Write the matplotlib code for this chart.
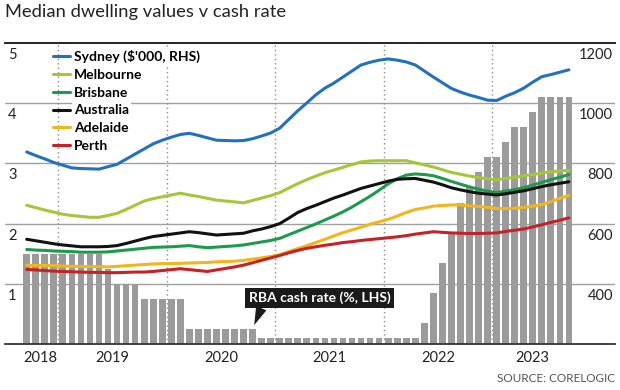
import numpy as np
import pandas as pd
import matplotlib
matplotlib.use("Agg")
import matplotlib.pyplot as plt

# Monthly data, Sep 2018 to Sep 2023
months = pd.date_range("2018-09-01", "2023-09-01", freq="MS")

# RBA cash rate (%, LHS)
cash_rate = [1.5, 1.5, 1.5, 1.5, 1.5, 1.5, 1.5, 1.5, 1.5, 1.25,
             1.0, 1.0, 1.0, 0.75, 0.75, 0.75, 0.75, 0.75, 0.25, 0.25,
             0.25, 0.25, 0.25, 0.25, 0.25, 0.25, 0.1, 0.1, 0.1, 0.1,
             0.1, 0.1, 0.1, 0.1, 0.1, 0.1, 0.1, 0.1, 0.1, 0.1,
             0.1, 0.1, 0.1, 0.1, 0.35, 0.85, 1.35, 1.85, 2.35, 2.6,
             2.85, 3.1, 3.1, 3.35, 3.6, 3.6, 3.85, 4.1, 4.1, 4.1, 4.1]

# Median dwelling values ($'000, RHS)
sydney = [838, 826, 815, 803, 794, 785, 783, 782, 781, 789,
          797, 814, 831, 848, 865, 877, 887, 896, 900, 893,
          885, 877, 876, 875, 876, 882, 891, 901, 917, 946,
          975, 1001, 1028, 1050, 1067, 1087, 1107, 1127, 1136, 1143,
          1147, 1143, 1137, 1127, 1107, 1087, 1068, 1049, 1037, 1027,
          1019, 1010, 1009, 1023, 1035, 1050, 1070, 1088, 1095, 1103, 1111]
melbourne = [661, 653, 645, 638, 631, 627, 624, 621, 621, 627,
             634, 647, 661, 675, 683, 689, 695, 701, 695, 690,
             684, 678, 675, 672, 669, 677, 685, 693, 703, 718,
             733, 746, 758, 769, 778, 787, 796, 805, 808, 809,
             809, 809, 809, 802, 795, 788, 779, 770, 764, 758,
             753, 749, 745, 750, 754, 759, 763, 768, 772, 775, 777]
brisbane = [514, 512, 511, 509, 508, 507, 505, 505, 505, 506,
            509, 512, 515, 518, 521, 522, 523, 525, 527, 523,
            520, 522, 524, 526, 529, 534, 539, 544, 551, 563,
            575, 587, 599, 612, 625, 639, 655, 673, 691, 711,
            732, 749, 761, 765, 763, 759, 750, 740, 731, 722,
            714, 708, 703, 708, 713, 719, 728, 737, 746, 754, 763]
australia = [548, 543, 538, 533, 529, 526, 523, 523, 523, 524,
             527, 534, 542, 550, 557, 561, 565, 569, 573, 570,
             566, 562, 564, 566, 568, 576, 582, 590, 600, 618,
             637, 650, 661, 673, 685, 695, 706, 717, 725, 733,
             741, 747, 749, 750, 744, 738, 729, 719, 712, 706,
             701, 698, 695, 699, 704, 709, 716, 723, 729, 734, 739]
adelaide = [462, 461, 461, 460, 459, 458, 458, 457, 457, 456,
            458, 460, 462, 464, 466, 467, 467, 468, 469, 470,
            471, 473, 474, 475, 478, 482, 486, 491, 497, 507,
            517, 527, 537, 548, 559, 570, 579, 588, 598, 606,
            614, 625, 637, 647, 652, 658, 660, 662, 662, 659,
            657, 654, 650, 650, 651, 654, 658, 663, 673, 684, 694]
perth = [448, 446, 444, 442, 441, 440, 439, 438, 438, 437,
         437, 438, 439, 439, 441, 444, 447, 450, 447, 444,
         441, 446, 451, 456, 462, 470, 478, 486, 494, 503,
         511, 518, 523, 528, 532, 537, 540, 544, 547, 550,
         553, 556, 560, 565, 569, 573, 571, 569, 568, 567,
         567, 568, 569, 574, 578, 582, 589, 596, 604, 611, 619]

series = [
    ("Sydney ($'000, RHS)", sydney, "#2271c1"),
    ("Melbourne", melbourne, "#a6c63a"),
    ("Brisbane", brisbane, "#1e9a4c"),
    ("Australia", australia, "#111111"),
    ("Adelaide", adelaide, "#f3b51c"),
    ("Perth", perth, "#c62127"),
]

left_ticks = [1, 2, 3, 4, 5]
right_ticks = [400, 600, 800, 1000, 1200]

plt.rcParams["font.family"] = ["Lato", "DejaVu Sans"]

x = np.arange(len(months))
years = months.year

fig = plt.figure(figsize=(6.2, 3.9), dpi=100)
ax = fig.add_axes([5 / 620, 46 / 390, 610 / 620, 301 / 390])
ax2 = ax.twinx()

# bars: cash rate
ax.bar(x, cash_rate, width=0.74, color="#9b9b9b", zorder=2)
ax.set_ylim(0, 5)
ax.set_xlim(-2.4, 65.1)

for v in left_ticks[:-1]:
    ax.axhline(v, color="#a0a0a0", lw=1, zorder=0)

# year boundaries (dotted)
for i in x[(months.month == 1)]:
    ax.axvline(i - 0.5, color="#8a8a8a", lw=1, ls=(0, (1, 2.2)), zorder=1)

# year labels centred in each year's span
year_pos = [x[years == y].mean() for y in sorted(set(years))]
ax.set_xticks(year_pos)
ax.set_xticklabels([str(y) for y in sorted(set(years))], fontsize=10.5, color="#222222")
ax.tick_params(axis="x", length=0, pad=5)
ax.set_yticks([])

for s in ["left", "right"]:
    ax.spines[s].set_visible(False)
    ax2.spines[s].set_visible(False)
ax.spines["top"].set_color("#111111")
ax.spines["top"].set_linewidth(1.3)
ax.spines["bottom"].set_color("#333333")
ax.spines["bottom"].set_linewidth(1.3)
ax2.spines["top"].set_visible(False)
ax2.spines["bottom"].set_visible(False)

# lines: dwelling values
handles = []
for name, vals, col in series:
    h, = ax2.plot(x, vals, color=col, lw=2.2, label=name, solid_capstyle="round")
    handles.append(h)
ax2.set_ylim(200, 1200)
ax2.set_yticks([])

# tick labels sitting just under the gridlines
for v in left_ticks:
    ax.annotate(str(v), xy=(0, v), xycoords=ax.get_yaxis_transform(),
                xytext=(3, -5), textcoords="offset pixels",
                ha="left", va="top", fontsize=10.5, color="#222222")
for v in right_ticks:
    ax2.annotate(str(v), xy=(1, v), xycoords=ax2.get_yaxis_transform(),
                 xytext=(-2, -5), textcoords="offset pixels",
                 ha="right", va="top", fontsize=10.5, color="#222222")

# legend without a frame; each label masks the gridline behind it
leg = ax.legend(handles=handles, loc="upper left",
                bbox_to_anchor=(50 / 620, 1 - 47 / 390),
                bbox_transform=fig.transFigure,
                frameon=False, borderpad=0.2,
                handlelength=1.25, handletextpad=0.3, labelspacing=0.42,
                borderaxespad=0, prop={"weight": "bold", "size": 10})
leg.set_zorder(3)
for t in leg.get_texts():
    t.set_bbox(dict(facecolor="white", edgecolor="none", pad=1.5))

# callout for the bars
ax.annotate("RBA cash rate (%, LHS)", xy=(25, cash_rate[25]),
            xytext=(67, 31), textcoords="offset pixels",
            ha="center", va="center", fontsize=10, fontweight="bold", color="white",
            bbox=dict(boxstyle="square,pad=0.28", fc="#1a1a1a", ec="none"),
            arrowprops=dict(arrowstyle="wedge,tail_width=0.8", fc="#1a1a1a", ec="none",
                            relpos=(0.1, 0.0), shrinkA=0, shrinkB=3),
            zorder=5)

fig.text(5 / 620, 1 - 4 / 390, "Median dwelling values v cash rate",
         ha="left", va="top", fontsize=13.2, color="#222222")
fig.text(615 / 620, 1 - 379 / 390, "SOURCE: CORELOGIC",
         ha="right", va="center", fontsize=8.5, color="#555555")

fig.savefig("out.png", dpi=100)
